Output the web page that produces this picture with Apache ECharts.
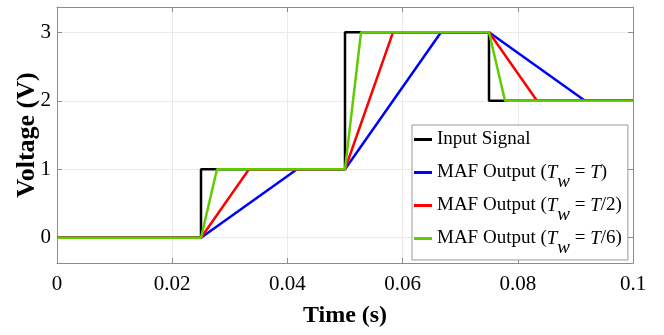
<!DOCTYPE html>
<html>
<head>
<meta charset="utf-8">
<script src="https://cdn.jsdelivr.net/npm/echarts@6/dist/echarts.min.js"></script>
<style>
  html, body { margin: 0; padding: 0; background: #fff; }
  #chart { width: 664px; height: 335px; }
</style>
</head>
<body>
<div id="chart"></div>
<script>
// Step input and moving-average-filter responses (time in s, voltage in V)
const seriesNames = [
  'Input Signal',
  'MAF Output (Tw = T)',
  'MAF Output (Tw = T/2)',
  'MAF Output (Tw = T/6)'
];
const inputSignal = [[0, 0], [0.025, 0], [0.025, 1], [0.05, 1], [0.05, 3], [0.075, 3], [0.075, 2], [0.1, 2]];
const mafFull     = [[0, 0], [0.025, 0], [0.04167, 1], [0.05, 1], [0.06667, 3], [0.075, 3], [0.09167, 2], [0.1, 2]];
const mafHalf     = [[0, 0], [0.025, 0], [0.03333, 1], [0.05, 1], [0.05833, 3], [0.075, 3], [0.08333, 2], [0.1, 2]];
const mafSixth    = [[0, 0], [0.025, 0], [0.02778, 1], [0.05, 1], [0.05278, 3], [0.075, 3], [0.07778, 2], [0.1, 2]];
const seriesColors = ['#000000', '#0000ff', '#ff0000', '#5fcc00'];
const xTicks = [0, 0.02, 0.04, 0.06, 0.08, 0.1];
const yTicks = [0, 1, 2, 3];

// Legend labels with italic T and subscript w
const legendRich = {
  'Input Signal': 'Input Signal{sub| }',
  'MAF Output (Tw = T)': 'MAF Output ({i|T}{sub|w} = {i|T})',
  'MAF Output (Tw = T/2)': 'MAF Output ({i|T}{sub|w} = {i|T}/2)',
  'MAF Output (Tw = T/6)': 'MAF Output ({i|T}{sub|w} = {i|T}/6)'
};

const FONT = "'Liberation Serif', 'Times New Roman', serif";
const chart = echarts.init(document.getElementById('chart'), null, { renderer: 'canvas' });

const datasets = [inputSignal, mafFull, mafHalf, mafSixth];
const series = datasets.map((d, k) => ({
  name: seriesNames[k],
  type: 'line',
  data: d,
  showSymbol: false,
  symbol: 'none',
  lineStyle: { color: seriesColors[k], width: 2.5 },
  itemStyle: { color: seriesColors[k] },
  xAxisIndex: 0,
  yAxisIndex: 0,
  z: 2 + k,
  animation: false
}));

const axisLineStyle = { show: true, onZero: false, lineStyle: { color: '#8c8c8c', width: 1 } };
const tickStyle = { show: true, inside: true, length: 5, lineStyle: { color: '#8c8c8c' } };

chart.setOption({
  animation: false,
  backgroundColor: '#ffffff',
  grid: { left: 57, right: 31, top: 7, bottom: 72, containLabel: false, outerBoundsMode: 'none' },
  xAxis: [{
    type: 'value',
    min: xTicks[0],
    max: xTicks[xTicks.length - 1],
    interval: 0.02,
    axisLine: axisLineStyle,
    axisTick: tickStyle,
    splitLine: { show: true, lineStyle: { color: '#ebebeb', width: 1 } },
    axisLabel: { fontFamily: FONT, fontSize: 21, color: '#000', margin: 11,
      formatter: v => (xTicks.some(t => Math.abs(t - v) < 1e-9) ? String(+v.toFixed(2)) : '') },
    name: 'Time (s)',
    nameLocation: 'middle',
    nameGap: 41,
    nameMoveOverlap: false,
    nameTextStyle: { fontFamily: FONT, fontSize: 24, fontWeight: 'bold', color: '#000' }
  }, {
    type: 'value',
    position: 'top',
    min: xTicks[0],
    max: xTicks[xTicks.length - 1],
    interval: 0.02,
    axisLine: axisLineStyle,
    axisTick: tickStyle,
    axisLabel: { show: false },
    splitLine: { show: false }
  }],
  yAxis: [{
    type: 'value',
    min: -0.37,
    max: 3.37,
    minInterval: 1,
    maxInterval: 1,
    axisLine: axisLineStyle,
    axisTick: tickStyle,
    splitLine: { show: true, lineStyle: { color: '#ebebeb', width: 1 } },
    axisLabel: { fontFamily: FONT, fontSize: 21, color: '#000', margin: 6,
      showMinLabel: false, showMaxLabel: false,
      formatter: v => (yTicks.includes(v) ? String(v) : '') },
    name: 'Voltage (V)',
    nameLocation: 'middle',
    nameGap: 17,
    nameMoveOverlap: false,
    nameTextStyle: { fontFamily: FONT, fontSize: 26, fontWeight: 'bold', color: '#000' }
  }, {
    type: 'value',
    position: 'right',
    min: -0.37,
    max: 3.37,
    minInterval: 1,
    maxInterval: 1,
    axisLine: axisLineStyle,
    axisTick: tickStyle,
    axisLabel: { show: false },
    splitLine: { show: false }
  }],
  legend: {
    data: seriesNames,
    orient: 'vertical',
    left: 412,
    top: 125,
    padding: [5, 6, 3, 2],
    itemGap: 5,
    itemWidth: 18,
    itemHeight: 3,
    icon: 'rect',
    backgroundColor: '#ffffff',
    borderColor: '#999999',
    borderWidth: 1,
    borderRadius: 0,
    selectedMode: false,
    formatter: name => legendRich[name],
    textStyle: {
      fontFamily: FONT,
      fontSize: 19,
      color: '#000',
      rich: {
        i: { fontFamily: FONT, fontSize: 19, fontStyle: 'italic', color: '#000' },
        sub: { fontFamily: FONT, fontSize: 19, fontStyle: 'italic', color: '#000', padding: [18, 0, 0, 0] }
      }
    }
  },
  series: series
});
</script>
</body>
</html>
